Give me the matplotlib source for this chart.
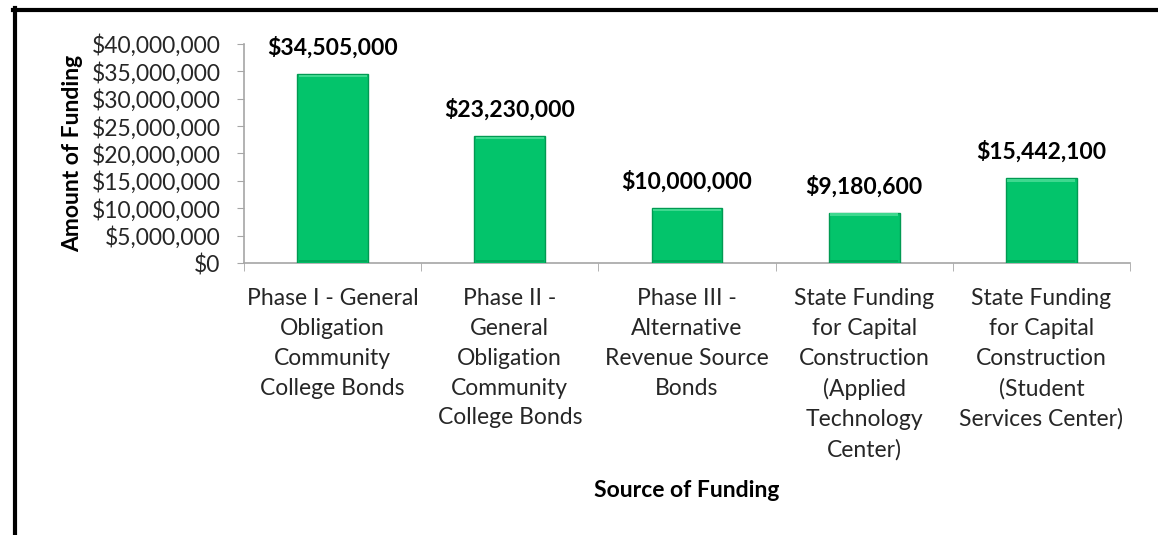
import matplotlib
matplotlib.use('agg')
import matplotlib.pyplot as plt
from matplotlib.lines import Line2D
from matplotlib.ticker import FuncFormatter
import numpy as np

# funding sources and amounts
sources = [
    "Phase I - General\nObligation\nCommunity\nCollege Bonds",
    "Phase II -\nGeneral\nObligation\nCommunity\nCollege Bonds",
    "Phase III -\nAlternative\nRevenue Source\nBonds",
    "State Funding\nfor Capital\nConstruction\n(Applied\nTechnology\nCenter)",
    "State Funding\nfor Capital\nConstruction\n(Student\nServices Center)",
]
amounts = [34505000, 23230000, 10000000, 9180600, 15442100]
y_ticks = [0, 5000000, 10000000, 15000000, 20000000, 25000000, 30000000, 35000000, 40000000]

plt.rcParams['font.family'] = ['Lato', 'DejaVu Sans']
text_color = '#262626'

fig = plt.figure(figsize=(11.58, 5.35), dpi=100)
ax = fig.add_axes([0.2107, 0.5084, 0.7651, 0.4094])

x = np.arange(len(amounts))
bar_w = 0.40

# main bars plus a light band on top and a darker band at the base for the bevel look
ax.bar(x, amounts, width=bar_w, color='#03c46b', edgecolor='#019a52', linewidth=1.0, zorder=3)
band = 450000
ax.bar(x, band, width=bar_w * 0.96, bottom=np.array(amounts) - band * 1.3,
       color='#3fd88f', linewidth=0, zorder=4)
ax.bar(x, band, width=bar_w * 0.96, bottom=band * 0.3,
       color='#02a95a', linewidth=0, zorder=4)

# value labels above each bar
for xi, v in zip(x, amounts):
    ax.text(xi, v + 2800000, "${:,.0f}".format(v), ha='center', va='bottom',
            fontsize=16.5, fontweight='bold', color='black', clip_on=False)

ax.set_xlim(-0.5, len(amounts) - 0.5)
ax.set_ylim(0, 40000000)
ax.set_yticks(y_ticks)
ax.yaxis.set_major_formatter(FuncFormatter(lambda v, p: "${:,.0f}".format(v)))

ax.set_xticks(x)
ax.set_xticklabels(sources, fontsize=16.5, color=text_color, linespacing=1.52, va='top')
ax.set_xticks(np.arange(len(amounts) + 1) - 0.5, minor=True)
ax.tick_params(axis='x', which='major', length=0, pad=18)
ax.tick_params(axis='x', which='minor', length=6, color='#a6a6a6', direction='out')
ax.tick_params(axis='y', labelsize=16.5, labelcolor=text_color, length=5,
               color='#a6a6a6', pad=12)

for side in ['top', 'right']:
    ax.spines[side].set_visible(False)
for side in ['left', 'bottom']:
    ax.spines[side].set_color('#a6a6a6')
    ax.spines[side].set_linewidth(1.2)

ax.set_ylabel("Amount of Funding", fontsize=16.5, fontweight='bold', color='black', labelpad=6)
ax.set_xlabel("Source of Funding", fontsize=16.5, fontweight='bold', color='black', labelpad=14)

# black frame along top and left edges
fig.add_artist(Line2D([13 / 1158, 1.0], [1 - 10 / 535, 1 - 10 / 535], transform=fig.transFigure,
                      color='black', linewidth=3))
fig.add_artist(Line2D([15 / 1158, 15 / 1158], [0, 1 - 8 / 535], transform=fig.transFigure,
                      color='black', linewidth=3))

fig.savefig('out.png', dpi=100)
